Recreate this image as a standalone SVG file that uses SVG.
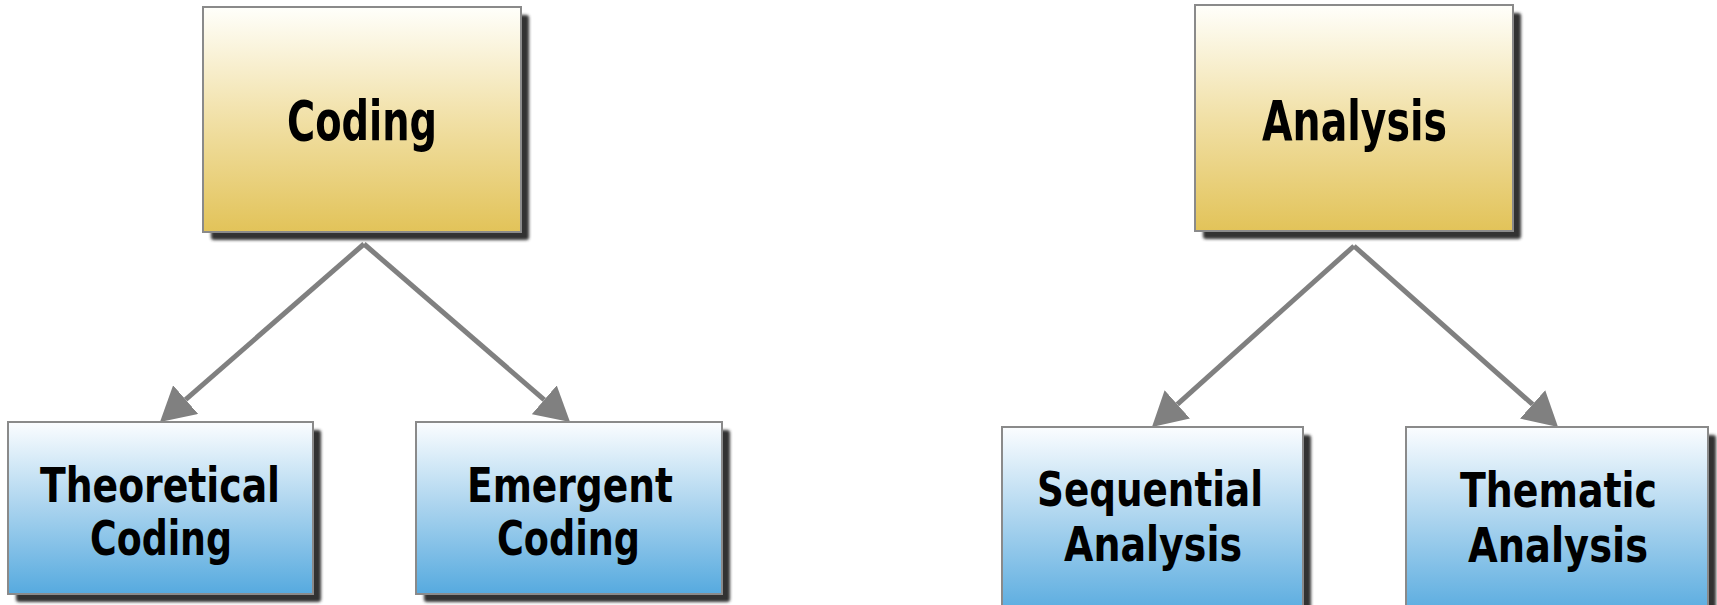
<svg xmlns="http://www.w3.org/2000/svg" width="1717" height="605" viewBox="0 0 1717 605">
<style>
.box{stroke:#8a8a8a;stroke-width:2}
.gold{fill:url(#gGold)}
.blue{fill:url(#gBlue)}
.shadow{fill:#303030;filter:url(#blur)}
.title{font-family:"DejaVu Sans Condensed","DejaVu Sans",sans-serif;font-weight:bold;font-size:56px;fill:#000}
.label{font-family:"DejaVu Sans Condensed","DejaVu Sans",sans-serif;font-weight:bold;font-size:48px;fill:#000}
.conn{stroke:#808080;stroke-width:5;fill:none;marker-end:url(#arrow)}
</style>
<defs>
<linearGradient id="gGold" x1="0" y1="0" x2="0" y2="1">
<stop offset="0" stop-color="#fffffb"/>
<stop offset="0.5" stop-color="#f1e0a6"/>
<stop offset="1" stop-color="#e2c359"/>
</linearGradient>
<linearGradient id="gBlue" x1="0" y1="0" x2="0" y2="1">
<stop offset="0" stop-color="#fbfdff"/>
<stop offset="0.5" stop-color="#a9d3ee"/>
<stop offset="1" stop-color="#56aadf"/>
</linearGradient>
<filter id="blur" x="-10%" y="-10%" width="120%" height="120%">
<feGaussianBlur stdDeviation="1.8"/>
</filter>
<marker id="arrow" viewBox="0 0 34 38" refX="0" refY="19" markerWidth="34" markerHeight="38" markerUnits="userSpaceOnUse" orient="auto">
<path d="M0,0 L34,19 L0,38 z" fill="#808080"/>
</marker>
</defs>
<rect width="1717" height="605" fill="#ffffff"/>
<g id="connectors">
<line class="conn" x1="364" y1="244" x2="185.6" y2="399.6"/>
<line class="conn" x1="364" y1="244" x2="544.3" y2="399.8"/>
<line class="conn" x1="1354" y1="246" x2="1177.3" y2="404.3"/>
<line class="conn" x1="1354" y1="246" x2="1532.6" y2="404.4"/>
</g>
<g id="node-coding">
<rect class="shadow" x="211" y="15" width="318" height="225" rx="3"/>
<rect class="box gold" x="203" y="7" width="318" height="225"/>
<text class="title" x="287" y="140" textLength="150" lengthAdjust="spacingAndGlyphs">Coding</text>
</g>
<g id="node-analysis">
<rect class="shadow" x="1203" y="13" width="318" height="226" rx="3"/>
<rect class="box gold" x="1195" y="5" width="318" height="226"/>
<text class="title" x="1262" y="140" textLength="185" lengthAdjust="spacingAndGlyphs">Analysis</text>
</g>
<g id="node-theoretical">
<rect class="shadow" x="16" y="430" width="305" height="172" rx="3"/>
<rect class="box blue" x="8" y="422" width="305" height="172"/>
<text class="label" x="40" y="502" textLength="240" lengthAdjust="spacingAndGlyphs">Theoretical</text>
<text class="label" x="90" y="555" textLength="142" lengthAdjust="spacingAndGlyphs">Coding</text>
</g>
<g id="node-emergent">
<rect class="shadow" x="424" y="430" width="306" height="172" rx="3"/>
<rect class="box blue" x="416" y="422" width="306" height="172"/>
<text class="label" x="467" y="502" textLength="206" lengthAdjust="spacingAndGlyphs">Emergent</text>
<text class="label" x="497" y="555" textLength="143" lengthAdjust="spacingAndGlyphs">Coding</text>
</g>
<g id="node-sequential">
<rect class="shadow" x="1010" y="435" width="301" height="190" rx="3"/>
<rect class="box blue" x="1002" y="427" width="301" height="190"/>
<text class="label" x="1037" y="506" textLength="226" lengthAdjust="spacingAndGlyphs">Sequential</text>
<text class="label" x="1064" y="561" textLength="178" lengthAdjust="spacingAndGlyphs">Analysis</text>
</g>
<g id="node-thematic">
<rect class="shadow" x="1414" y="435" width="302" height="190" rx="3"/>
<rect class="box blue" x="1406" y="427" width="302" height="190"/>
<text class="label" x="1460" y="507" textLength="197" lengthAdjust="spacingAndGlyphs">Thematic</text>
<text class="label" x="1468" y="562" textLength="180" lengthAdjust="spacingAndGlyphs">Analysis</text>
</g>
</svg>
